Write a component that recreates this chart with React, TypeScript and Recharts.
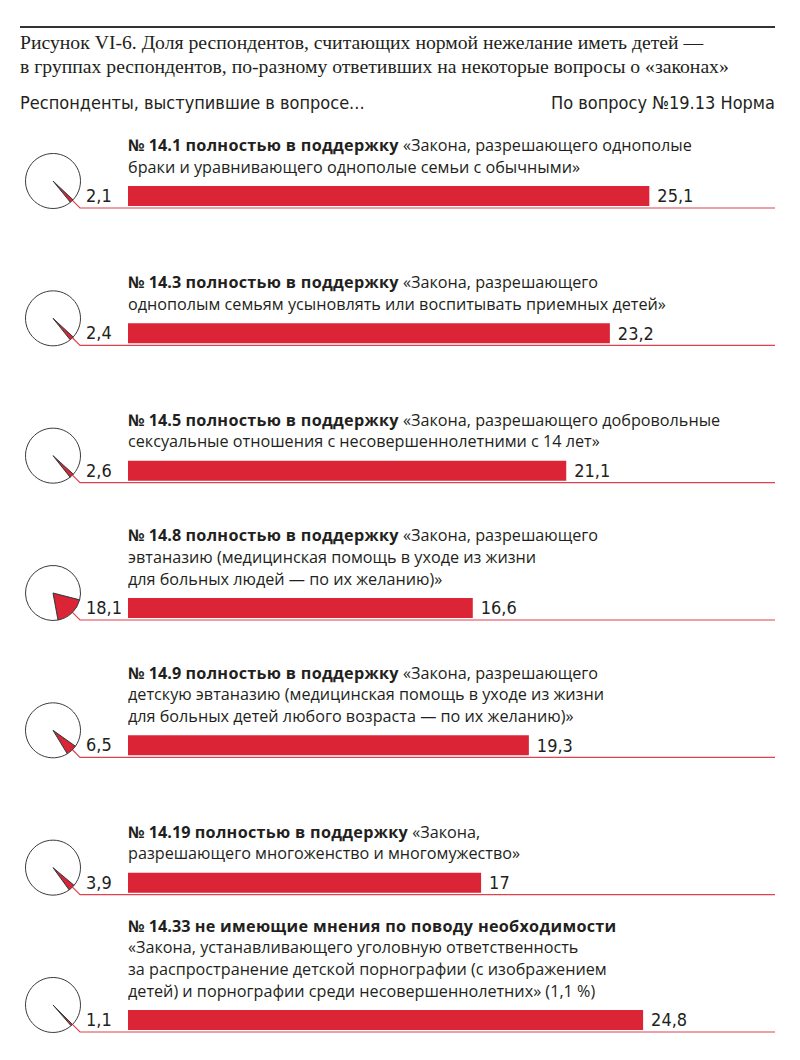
import { BarChart, Bar, XAxis, YAxis, LabelList, PieChart, Pie, Cell } from 'recharts';

// question codes, bold phrase and remaining label lines
const codes = ['№ 14.1', '№ 14.3', '№ 14.5', '№ 14.8', '№ 14.9', '№ 14.19', '№ 14.33'];
const boldParts = [
    'полностью в поддержку',
    'полностью в поддержку',
    'полностью в поддержку',
    'полностью в поддержку',
    'полностью в поддержку',
    'полностью в поддержку',
    'не имеющие мнения по поводу необходимости',
];
const labelLines = [
    ['«Закона, разрешающего однополые', 'браки и уравнивающего однополые семьи с обычными»'],
    ['«Закона, разрешающего', 'однополым семьям усыновлять или воспитывать приемных детей»'],
    ['«Закона, разрешающего добровольные', 'сексуальные отношения с несовершеннолетними с 14 лет»'],
    ['«Закона, разрешающего', 'эвтаназию (медицинская помощь в уходе из жизни', 'для больных людей — по их желанию)»'],
    ['«Закона, разрешающего', 'детскую эвтаназию (медицинская помощь в уходе из жизни', 'для больных детей любого возраста — по их желанию)»'],
    ['«Закона,', 'разрешающего многоженство и многомужество»'],
    ['', '«Закона, устанавливающего уголовную ответственность', 'за распространение детской порнографии (с изображением', 'детей) и порнографии среди несовершеннолетних» (1,1 %)'],
];
// share of respondents in the group (pie), % who consider it normal not to want children (bar)
const groupShare = [2.1, 2.4, 2.6, 18.1, 6.5, 3.9, 1.1];
const normShare = [25.1, 23.2, 21.1, 16.6, 19.3, 17, 24.8];

const RED = '#dc2437';
const LINE_RED = '#e0414f';
const INK = '#231f20';
const NARROW = '"Liberation Sans Narrow", "DejaVu Sans Condensed", sans-serif';
const LABEL_FONT = '"Open Sans", "Noto Sans", sans-serif';

const FIRST_BAR_TOP = 186;
const STEP = 137.33;
const BAR_H = 20;
const PIE_R = 27.5;
const PIE_X = 53;

const fmt = (v: number) => String(v).replace('.', ',');

const barData = codes.map((c, i) => ({ code: c, group: groupShare[i], norm: normShare[i] }));

const GroupTick = (props: any) => {
    const { y, payload } = props;
    return (
        <text x={86} y={y} dy={6.5} fontSize={18} fill={INK} fontFamily={NARROW} textAnchor="start">
            {fmt(groupShare[payload.index])}
        </text>
    );
};

export default function App() {
    const chartTop = FIRST_BAR_TOP + BAR_H / 2 - STEP / 2;
    const chartH = STEP * codes.length;
    const LH = 21.7;

    return (
        <div style={{ position: 'absolute', left: 0, top: 0, width: 800, height: 1060, overflow: 'hidden', background: '#fff', color: INK }}>
            <div style={{ position: 'absolute', left: 20, top: 26, width: 755, height: 2, background: '#333' }} />
            <div style={{ position: 'absolute', left: 20, top: 30, fontFamily: '"Liberation Serif", serif', fontSize: 19.7, lineHeight: '24px' }}>
                <div>Рисунок VI-6. Доля респондентов, считающих нормой нежелание иметь детей —</div>
                <div>в группах респондентов, по-разному ответивших на некоторые вопросы о «законах»</div>
            </div>
            <div style={{ position: 'absolute', left: 20, top: 92, fontFamily: NARROW, fontSize: 18 }}>
                Респонденты, выступившие в вопросе...
            </div>
            <div style={{ position: 'absolute', right: 25, top: 92, fontFamily: NARROW, fontSize: 18 }}>
                По вопросу №19.13 Норма
            </div>

            {codes.map((c, i) => {
                const barTop = FIRST_BAR_TOP + i * STEP;
                const lines = labelLines[i];
                const top = barTop - 18.5 - (lines.length - 1) * LH - LH / 2;
                return (
                    <div key={c} style={{ position: 'absolute', left: 128, top, fontFamily: LABEL_FONT, fontSize: 16.2, lineHeight: `${LH}px`, whiteSpace: 'nowrap' }}>
                        <div>
                            <b>{c}</b> <b style={{ letterSpacing: 0.3 }}>{boldParts[i]}</b> {lines[0]}
                        </div>
                        {lines.slice(1).map((l) => (
                            <div key={l}>{l}</div>
                        ))}
                    </div>
                );
            })}

            <svg width={800} height={1060} style={{ position: 'absolute', left: 0, top: 0 }}>
                {codes.map((c, i) => {
                    const barTop = FIRST_BAR_TOP + i * STEP;
                    const cy = barTop - 5;
                    const lineY = barTop + 22;
                    const sx = PIE_X + PIE_R * Math.SQRT1_2;
                    const sy = cy + PIE_R * Math.SQRT1_2;
                    const ex = sx + (lineY - sy);
                    return (
                        <polyline key={c} points={`${sx},${sy} ${ex},${lineY} 775,${lineY}`} fill="none" stroke={LINE_RED} strokeWidth={1.2} />
                    );
                })}
            </svg>

            <div style={{ position: 'absolute', left: 0, top: chartTop }}>
                <BarChart width={800} height={chartH} data={barData} layout="vertical" margin={{ top: 0, right: 25, bottom: 0, left: 0 }}>
                    <XAxis type="number" domain={[0, 31.15]} hide />
                    <YAxis type="category" dataKey="code" width={128} axisLine={false} tickLine={false} tick={<GroupTick />} />
                    <Bar dataKey="norm" fill={RED} barSize={BAR_H} isAnimationActive={false}>
                        <LabelList dataKey="norm" position="right" offset={8} formatter={(v: any) => fmt(Number(v))} fill={INK} fontSize={18} fontFamily={NARROW} />
                    </Bar>
                </BarChart>
            </div>

            <div style={{ position: 'absolute', left: 0, top: 0 }}>
                <PieChart width={84} height={1060} margin={{ top: 0, right: 0, bottom: 0, left: 0 }}>
                    {groupShare.map((v, i) => {
                        const start = -47 + (v * 3.6) / 2;
                        return (
                            <Pie
                                key={`s${i}`}
                                data={[{ name: 'group', value: v }, { name: 'rest', value: 100 - v }]}
                                dataKey="value"
                                cx={PIE_X}
                                cy={FIRST_BAR_TOP + i * STEP - 5}
                                outerRadius={PIE_R}
                                innerRadius={0}
                                startAngle={start}
                                endAngle={start - 360}
                                stroke="#3a3a3a"
                                strokeWidth={1}
                                isAnimationActive={false}
                            >
                                <Cell fill={RED} />
                                <Cell fill="#fff" />
                            </Pie>
                        );
                    })}
                </PieChart>
            </div>
        </div>
    );
}
